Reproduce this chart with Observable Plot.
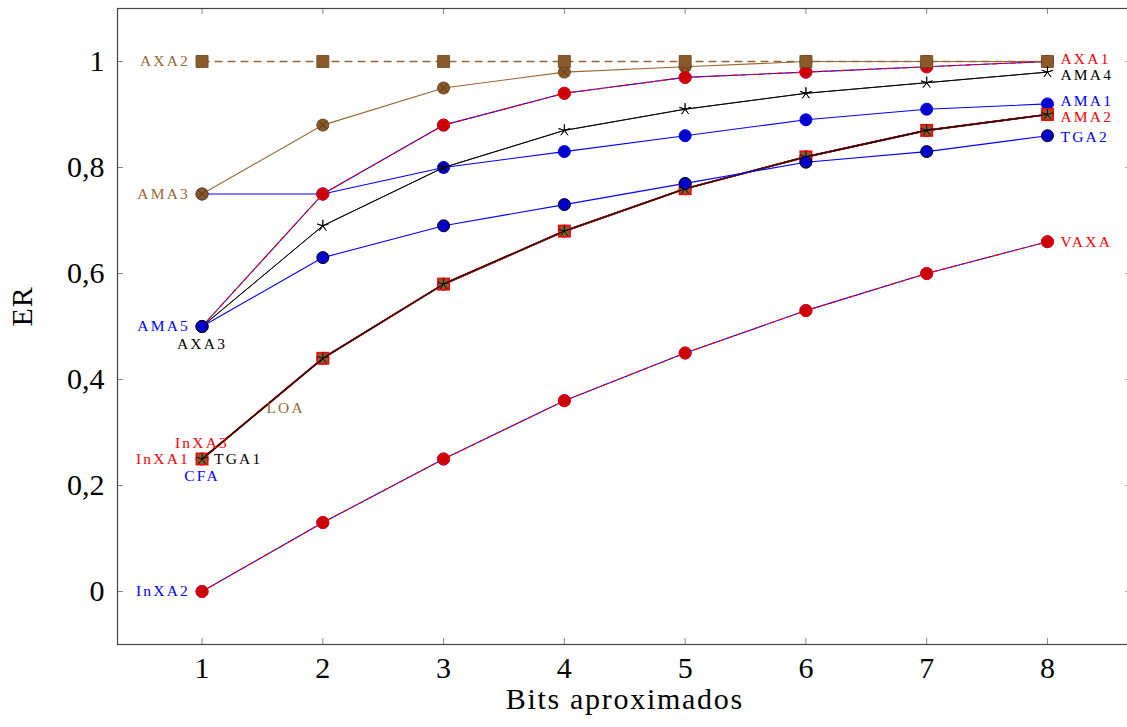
<!DOCTYPE html>
<html><head><meta charset="utf-8">
<script src="https://cdn.jsdelivr.net/npm/d3@7"></script>
<script src="https://cdn.jsdelivr.net/npm/@observablehq/plot@0.6"></script>
<style>html,body{margin:0;padding:0;background:#fff} svg{display:block;overflow:hidden}</style>
</head><body><div id="chart"></div>
<script>
const bits = [1, 2, 3, 4, 5, 6, 7, 8];
const xTickLabels = ["1", "2", "3", "4", "5", "6", "7", "8"];
const yTicks = [0, 0.2, 0.4, 0.6, 0.8, 1];
const yTickLabels = ["0", "0,2", "0,4", "0,6", "0,8", "1"];

const AXA2  = [1, 1, 1, 1, 1, 1, 1, 1];
const AMA3  = [0.75, 0.88, 0.95, 0.98, 0.99, 1, 1, 1];
const AMA1  = [0.75, 0.75, 0.80, 0.83, 0.86, 0.89, 0.91, 0.92];
const AMA5  = [0.5, 0.75, 0.88, 0.94, 0.97, 0.98, 0.99, 1];
const AXA1  = [0.5, 0.75, 0.88, 0.94, 0.97, 0.98, 0.99, 1];
const AXA3  = [0.5, 0.69, 0.80, 0.87, 0.91, 0.94, 0.96, 0.98];
const AMA4  = [0.5, 0.69, 0.80, 0.87, 0.91, 0.94, 0.96, 0.98];
const TGA2  = [0.5, 0.63, 0.69, 0.73, 0.77, 0.81, 0.83, 0.86];
const InXA2 = [0, 0.13, 0.25, 0.36, 0.45, 0.53, 0.60, 0.66];
const VAXA  = [0, 0.13, 0.25, 0.36, 0.45, 0.53, 0.60, 0.66];
const CFA   = [0.25, 0.44, 0.58, 0.68, 0.76, 0.82, 0.87, 0.90];
const InXA1 = [0.25, 0.44, 0.58, 0.68, 0.76, 0.82, 0.87, 0.90];
const InXA3 = [0.25, 0.44, 0.58, 0.68, 0.76, 0.82, 0.87, 0.90];
const AMA2  = [0.25, 0.44, 0.58, 0.68, 0.76, 0.82, 0.87, 0.90];
const LOA   = [0.25, 0.44, 0.58, 0.68, 0.76, 0.82, 0.87, 0.90];
const TGA1  = [0.25, 0.44, 0.58, 0.68, 0.76, 0.82, 0.87, 0.90];

const RED = "#ff0000", BLUE = "#0000ff", BROWN = "#996633", BLACK = "#000000";
const REDF = "#cc0000", BLUEF = "#0000cc", BROWNF = "#8b5a2b";
const FONT = "'Liberation Serif', 'DejaVu Serif', serif";

const W = 1127, H = 727;
const mL = 117, mR = -4.5, mT = 8, mB = 83;
const PW = W - mR - mL, PH = H - mB - mT;

// pgfplots-like 5-armed star
const star5 = {
  draw(ctx, size) {
    const r = Math.sqrt(size) * 0.85;
    for (let k = 0; k < 5; k++) {
      const a = -Math.PI / 2 + k * 2 * Math.PI / 5;
      ctx.moveTo(0, 0);
      ctx.lineTo(r * Math.cos(a), r * Math.sin(a));
    }
  }
};

const rows = v => bits.map((b, i) => ({x: b, y: v[i]}));
const line = (v, o) => Plot.line(rows(v), {x: "x", y: "y", strokeWidth: 1.1, ...o});
const dots = (v, o) => Plot.dot(rows(v), {x: "x", y: "y", ...o});
const circ = (v, fill, stroke) => dots(v, {r: 6, fill, stroke, strokeWidth: 1});
const stars = v => dots(v, {symbol: star5, r: 4, fill: "none", stroke: BLACK, strokeWidth: 0.9});

const labels = [
  {text: "AXA2", v: AXA2, i: 0, color: BROWN, anchor: "end", dx: -12, dy: 0},
  {text: "AMA3", v: AMA3, i: 0, color: BROWN, anchor: "end", dx: -12, dy: 0},
  {text: "AMA5", v: AMA5, i: 0, color: BLUE, anchor: "end", dx: -12, dy: 0},
  {text: "AXA3", v: AXA3, i: 0, color: BLACK, anchor: "middle", dx: 0, dy: 18},
  {text: "InXA3", v: InXA3, i: 0, color: RED, anchor: "middle", dx: 0, dy: -16},
  {text: "InXA1", v: InXA1, i: 0, color: RED, anchor: "end", dx: -12, dy: 0},
  {text: "TGA1", v: TGA1, i: 0, color: BLACK, anchor: "start", dx: 12, dy: 0},
  {text: "CFA", v: CFA, i: 0, color: BLUE, anchor: "middle", dx: 0, dy: 17},
  {text: "InXA2", v: InXA2, i: 0, color: BLUE, anchor: "end", dx: -12, dy: 0},
  {text: "AXA1", v: AXA1, i: 7, color: RED, anchor: "start", dx: 13, dy: -2},
  {text: "AMA4", v: AMA4, i: 7, color: BLACK, anchor: "start", dx: 13, dy: 3},
  {text: "AMA1", v: AMA1, i: 7, color: BLUE, anchor: "start", dx: 13, dy: -3},
  {text: "AMA2", v: AMA2, i: 7, color: RED, anchor: "start", dx: 13, dy: 3},
  {text: "TGA2", v: TGA2, i: 7, color: BLUE, anchor: "start", dx: 13, dy: 1},
  {text: "VAXA", v: VAXA, i: 7, color: RED, anchor: "start", dx: 13, dy: 0}
];

const LBL = {fontSize: 15.5, fontFamily: FONT};
const labelMarks = labels.map(l => Plot.text([l], {
  x: () => bits[l.i], y: () => l.v[l.i], text: d => d.text,
  fill: l.color, textAnchor: l.anchor, dx: l.dx, dy: l.dy, ...LBL
}));
// LOA label placed at the middle of its first segment
labelMarks.push(Plot.text(["LOA"], {
  x: () => (bits[0] + bits[1]) / 2, y: () => (LOA[0] + LOA[1]) / 2, text: d => d,
  fill: BROWN, textAnchor: "start", dx: 4, dy: -1, ...LBL
}));

const chart = Plot.plot({
  width: W, height: H,
  marginLeft: mL, marginRight: mR, marginTop: mT, marginBottom: mB,
  style: {fontFamily: FONT, fontSize: "30px", background: "#fff"},
  x: {domain: [0.3, 8.7]},
  y: {domain: [-0.1, 1.1]},
  marks: [
    // inward ticks
    Plot.tickY(yTicks, {y: d => d, stroke: "#888", insetRight: PW - 6}),
    Plot.tickY(yTicks, {y: d => d, stroke: "#888", insetLeft: PW - 6}),
    Plot.tickX(bits, {x: d => d, stroke: "#888", insetTop: PH - 6}),
    Plot.tickX(bits, {x: d => d, stroke: "#888", insetBottom: PH - 6}),
    Plot.axisX(bits, {tickSize: 0, tickPadding: 12, fontSize: 30, fontFamily: FONT, label: null,
      tickFormat: d => xTickLabels[bits.indexOf(d)]}),
    Plot.axisY(yTicks, {tickSize: 0, tickPadding: 13, fontSize: 30, fontFamily: FONT, label: null,
      tickFormat: d => yTickLabels[yTicks.indexOf(d)]}),
    Plot.text(["ER"], {frameAnchor: "left", rotate: -90, dx: -95, text: d => d, fontSize: 30, fontFamily: FONT}),
    Plot.text(["Bits aproximados"], {frameAnchor: "bottom", dy: 64, text: d => d, fontSize: 30, fontFamily: FONT}),

    // AMA1
    line(AMA1, {stroke: BLUE}), circ(AMA1, BLUEF, BLUE),
    // AMA3
    line(AMA3, {stroke: BROWN}), circ(AMA3, BROWNF, "#6b4520"),
    dots(AMA3, {symbol: "times", r: 4, stroke: "#4a2e12", strokeWidth: 0.8}),
    // AMA5 / AXA1
    line(AMA5, {stroke: BLUE}), circ(AMA5, BLUEF, BLUE),
    line(AXA1, {stroke: RED, strokeDasharray: "5,4"}), circ(AXA1, REDF, RED),
    // AXA2
    line(AXA2, {stroke: BROWN, strokeWidth: 1.3, strokeDasharray: "7,6"}),
    dots(AXA2, {symbol: "square", r: 6.8, fill: BROWNF, stroke: "#6b4520", strokeWidth: 0.8}),
    // AXA3 / AMA4
    line(AXA3, {stroke: BLACK, strokeWidth: 0.9}), stars(AXA3),
    line(AMA4, {stroke: BLACK, strokeWidth: 0.9}), stars(AMA4),
    // InXA2 / VAXA
    line(InXA2, {stroke: BLUE}), circ(InXA2, BLUEF, BLUE),
    line(VAXA, {stroke: RED, strokeDasharray: "5,4"}), circ(VAXA, REDF, RED),
    // CFA, InXA1, InXA3, AMA2, LOA, TGA1
    line(CFA, {stroke: BLUE}), circ(CFA, BLUEF, BLUE),
    line(InXA1, {stroke: "#b00000", strokeWidth: 1.7}),
    line(InXA3, {stroke: "#b00000", strokeWidth: 1.7}),
    line(AMA2, {stroke: "#b00000", strokeWidth: 1.7}),
    dots(AMA2, {symbol: "square", r: 7.3, fill: RED}),
    line(LOA, {stroke: BROWN, strokeWidth: 1}),
    dots(LOA, {symbol: "square", r: 5.6, fill: BROWNF}),
    line(TGA1, {stroke: "#1a0505", strokeWidth: 1.1}), stars(TGA1),
    // TGA2
    line(TGA2, {stroke: BLUE}), circ(TGA2, BLUEF, BLACK),

    Plot.frame({stroke: "#444", strokeWidth: 1.2}),
    ...labelMarks
  ]
});

// Computer-Modern-like wider letter spacing
const labelSet = new Set(labels.map(l => l.text).concat(["LOA"]));
d3.select(chart).selectAll("text").each(function() {
  const t = this.textContent;
  if (labelSet.has(t)) this.style.letterSpacing = "2.2px";
  else if (t === "Bits aproximados") this.style.letterSpacing = "1.7px";
  else if (t === "ER") this.style.letterSpacing = "1px";
});
document.getElementById("chart").appendChild(chart);
</script>
</body></html>
